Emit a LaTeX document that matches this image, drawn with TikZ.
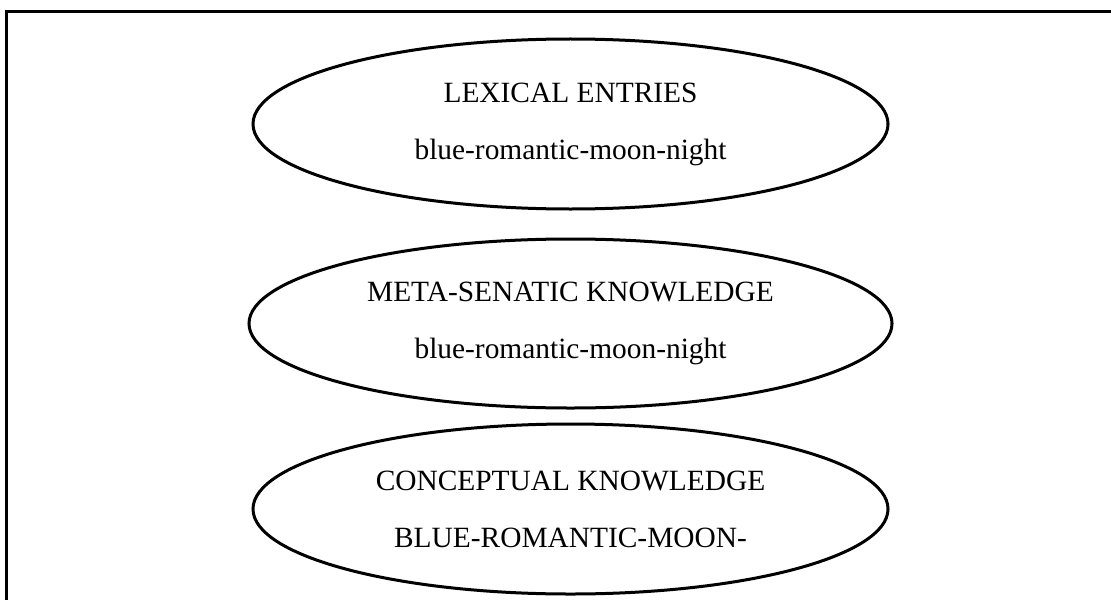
\documentclass[tikz,border=0pt]{standalone}
\usepackage{fontspec}
\setmainfont{Liberation Serif}
\usepackage{tikz}
\usetikzlibrary{shapes.geometric,positioning}
\tikzset{
  layerellipse/.style={draw=black, ellipse, line width=1.5pt, minimum width=317.5pt, minimum height=85pt, inner sep=0pt, align=center, font=\fontsize{14.7}{28.5}\selectfont},
  frameline/.style={draw=black, line width=1.5pt}
}
\begin{document}
\begin{tikzpicture}[x=0.5pt,y=-0.5pt]
  \useasboundingbox (0,0) rectangle (1111,599);
  \fill[white] (0,0) rectangle (1111,599);
  \draw[frameline] (6,610) -- (6,12) -- (1120,12);
  \node[layerellipse] (lexical) at (570.5,124) {LEXICAL ENTRIES\\blue-romantic-moon-night};
  \node[layerellipse, minimum width=321.5pt, minimum height=84.5pt] (metasem) at (570.5,323.5) {META-SENATIC KNOWLEDGE\\blue-romantic-moon-night};
  \node[layerellipse] (concept) at (570.5,509) {CONCEPTUAL KNOWLEDGE\\BLUE-ROMANTIC-MOON-};
\end{tikzpicture}
\end{document}
